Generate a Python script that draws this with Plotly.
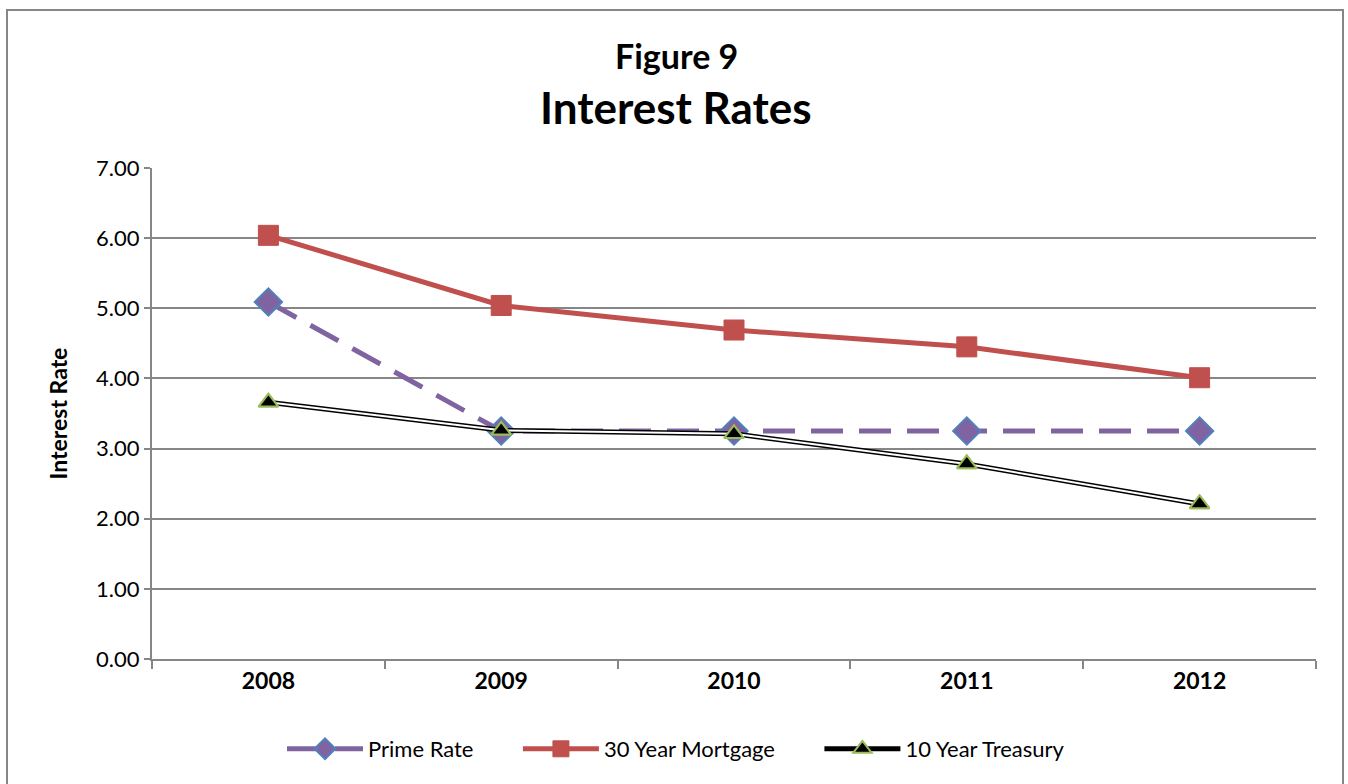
import plotly.graph_objects as go

years = ["2008", "2009", "2010", "2011", "2012"]
prime_rate = [5.09, 3.25, 3.25, 3.25, 3.25]
mortgage_30 = [6.04, 5.04, 4.69, 4.45, 4.01]
treasury_10 = [3.66, 3.26, 3.21, 2.78, 2.21]

W, H = 1348, 784
L, R, T, B = 152, 32, 168, 125
pw, ph = W - L - R, H - T - B

FONT = "Lato"
GRID = "#868686"
PAD = "\u00a0" * 7

fig = go.Figure()

fig.add_trace(go.Scatter(
    x=years, y=prime_rate, name="Prime Rate" + PAD, mode="lines+markers",
    line=dict(color="#8064A2", width=5, dash="32px,16px"),
    marker=dict(symbol="diamond", size=21, color="#8064A2",
                line=dict(color="#4F81BD", width=2)),
))
fig.add_trace(go.Scatter(
    x=years, y=mortgage_30, name="30 Year Mortgage" + PAD, mode="lines+markers",
    line=dict(color="#C0504D", width=5),
    marker=dict(symbol="square", size=20, color="#C0504D",
                line=dict(color="#C0504D", width=1)),
))
# 10 Year Treasury: double line (black outer, white inner) with triangle markers
fig.add_trace(go.Scatter(
    x=years, y=treasury_10, name="10 Year Treasury", mode="lines+markers",
    line=dict(color="black", width=5), legendgroup="t",
    marker=dict(symbol="triangle-up", size=17, color="black",
                line=dict(color="#9BBB59", width=2)),
))
fig.add_trace(go.Scatter(
    x=years, y=treasury_10, name="10 Year Treasury", mode="lines",
    line=dict(color="white", width=2), legendgroup="t", showlegend=False,
    hoverinfo="skip",
))
fig.add_trace(go.Scatter(
    x=years, y=treasury_10, name="10 Year Treasury", mode="markers",
    legendgroup="t", showlegend=False,
    marker=dict(symbol="triangle-up", size=17, color="black",
                line=dict(color="#9BBB59", width=2)),
))

fig.add_shape(type="rect", xref="paper", yref="paper",
              x0=(7 - L) / pw, x1=(1343 - L) / pw,
              y0=(H - T - 800) / ph, y1=1 + (T - 10) / ph,
              line=dict(color=GRID, width=2), fillcolor="rgba(0,0,0,0)", layer="below")

fig.add_annotation(text="<b>Figure 9</b>", xref="paper", yref="paper",
                   x=(676 - L) / pw, y=1 + (T - 56) / ph, showarrow=False,
                   font=dict(family=FONT, size=34, color="black"), yanchor="middle")
fig.add_annotation(text="<b>Interest Rates</b>", xref="paper", yref="paper",
                   x=(676 - L) / pw, y=1 + (T - 107) / ph, showarrow=False,
                   font=dict(family=FONT, size=44, color="black"), yanchor="middle")

fig.update_layout(
    width=W, height=H,
    margin=dict(l=L, r=R, t=T, b=B),
    paper_bgcolor="white", plot_bgcolor="white",
    font=dict(family=FONT, size=22, color="black"),
    showlegend=True,
    legend=dict(orientation="h", x=(676 - L) / pw, xanchor="center",
                y=(659 - 749) / ph, yanchor="middle",
                font=dict(family=FONT, size=22), itemwidth=76,
                tracegroupgap=0, bgcolor="rgba(0,0,0,0)"),
    xaxis=dict(type="category", range=[-0.5, 4.5], showgrid=False,
               showline=True, linecolor=GRID, linewidth=2,
               ticks="outside", tickson="boundaries", ticklen=8,
               tickcolor=GRID, tickwidth=2,
               tickfont=dict(family=FONT, size=23, color="black", weight="bold"),
               fixedrange=True),
    yaxis=dict(range=[0, 7], dtick=1, tickformat=".2f", showgrid=True,
               gridcolor=GRID, gridwidth=1.5, zeroline=False,
               showline=True, linecolor=GRID, linewidth=2,
               ticks="outside", ticklen=6, tickcolor=GRID, tickwidth=2,
               tickfont=dict(family=FONT, size=22, color="black"),
               title=dict(text="<b>Interest Rate</b>", standoff=22,
                          font=dict(family=FONT, size=23, color="black")),
               fixedrange=True),
)

fig.write_html("out.html")
